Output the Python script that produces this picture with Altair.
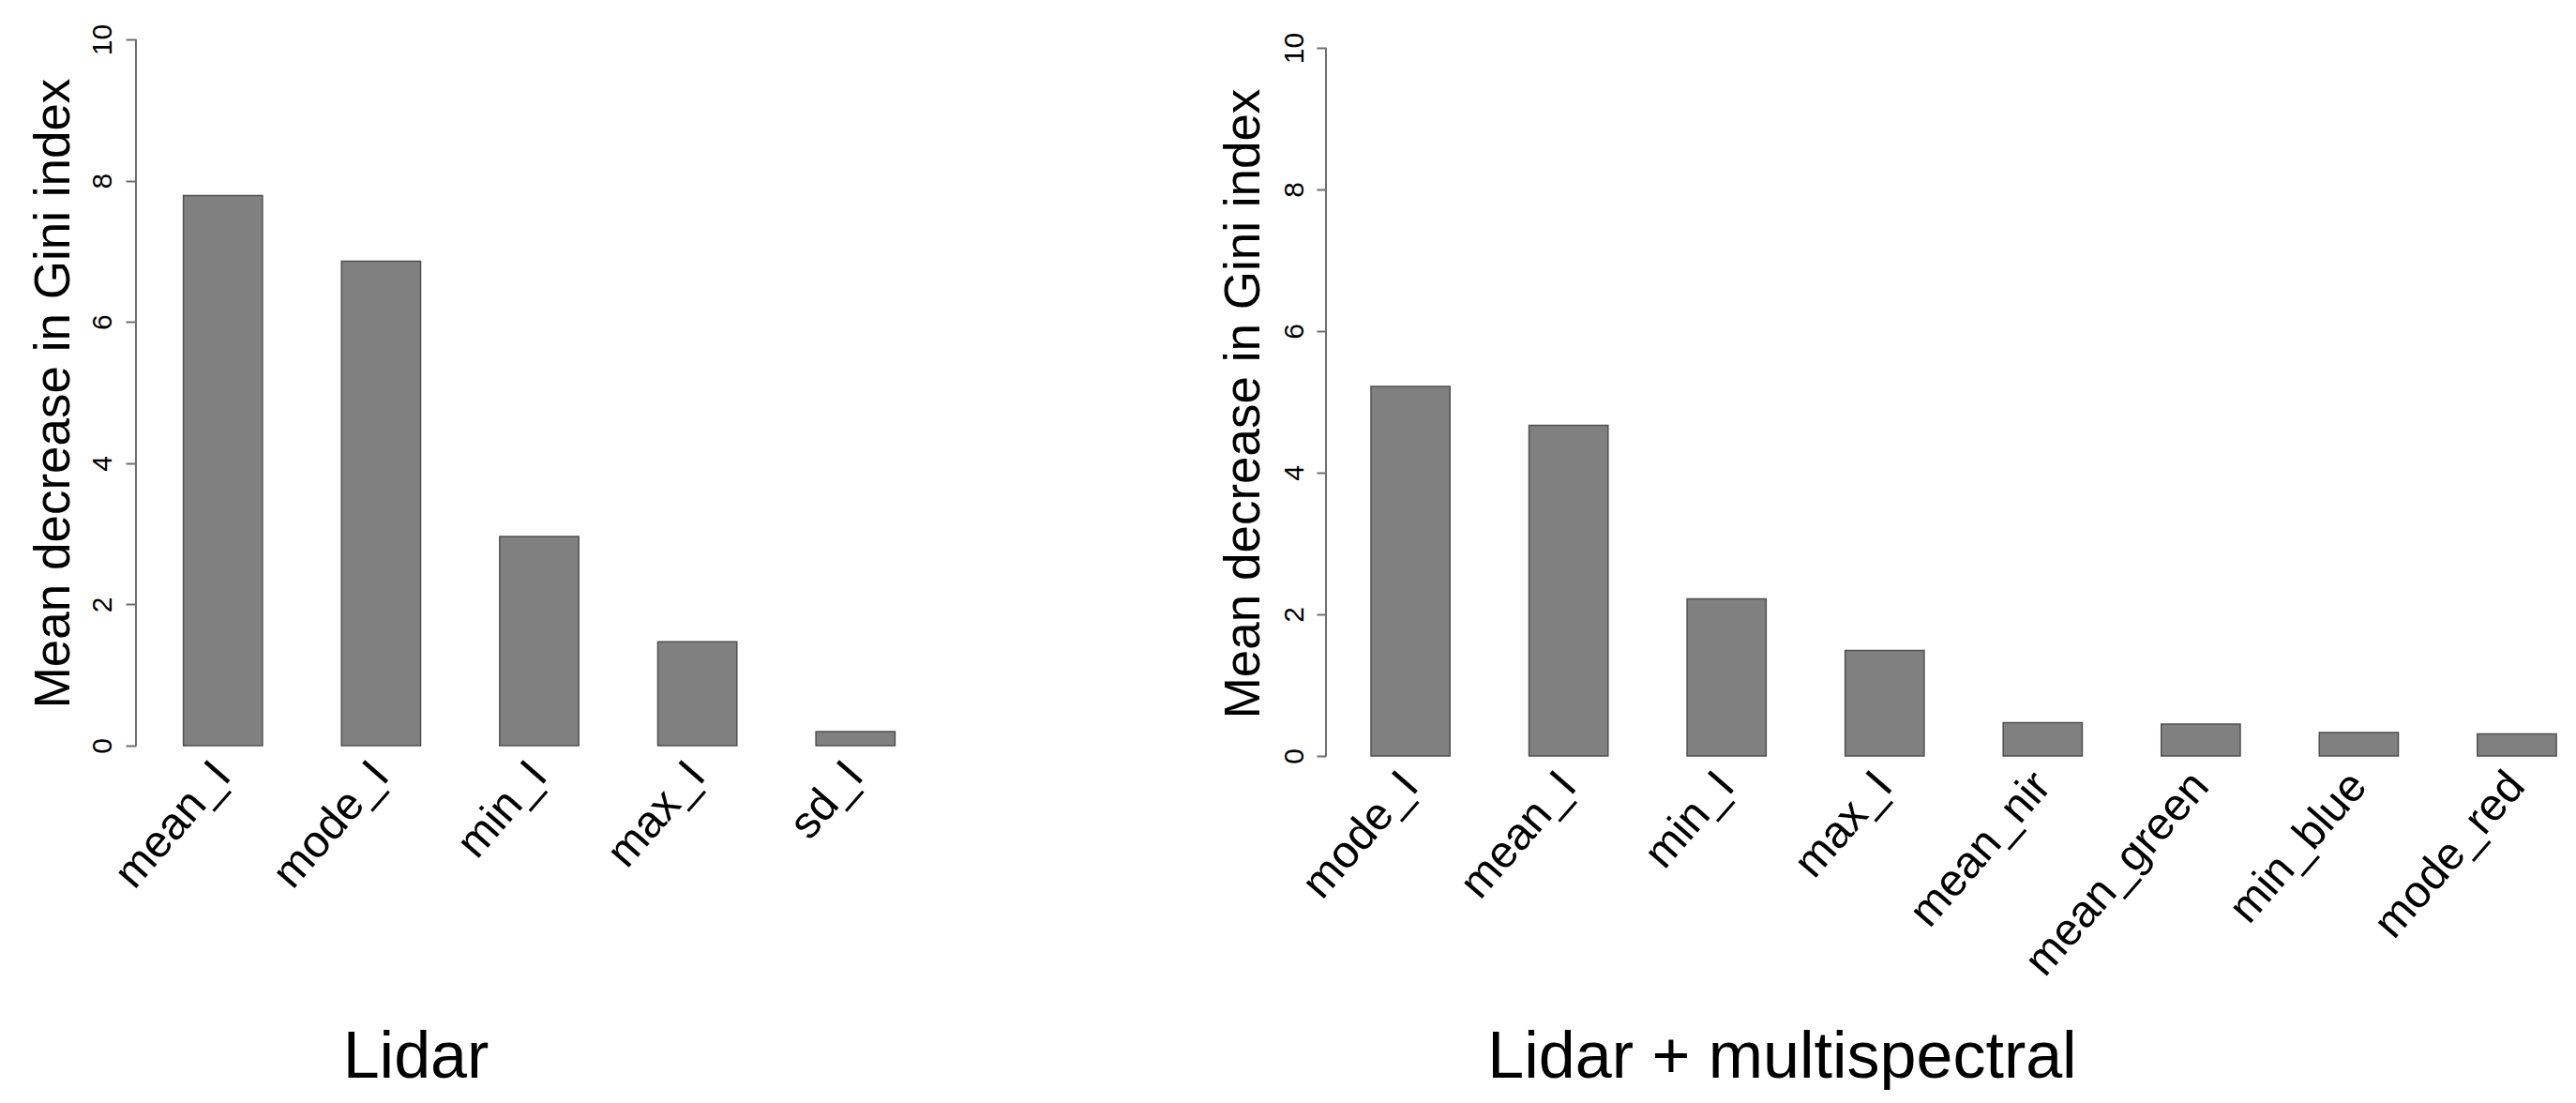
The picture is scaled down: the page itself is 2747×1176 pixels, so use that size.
import altair as alt
import pandas as pd

# ---- data ----
lidar_vars = ["mean_I", "mode_I", "min_I", "max_I", "sd_I"]
lidar_vals = [7.79, 6.86, 2.96, 1.47, 0.20]

combo_vars = ["mode_I", "mean_I", "min_I", "max_I", "mean_nir", "mean_green", "min_blue", "mode_red"]
combo_vals = [5.22, 4.67, 2.22, 1.49, 0.47, 0.45, 0.33, 0.31]

y_ticks = [0, 2, 4, 6, 8, 10]
axis_span = [0, 10]
panel_titles = ["Lidar", "Lidar + multispectral"]
y_title = "Mean decrease in Gini index"

FONT = "Liberation Sans, Arial, Helvetica, sans-serif"
GREY_AXIS = "#6e6e6e"


def panel(vars_, vals, title, width, dom, po, align, title_x, lab_pad,
          ylab_pad, ytitle_y, tick_len):
    df = pd.DataFrame({"var": vars_, "val": vals})
    yscale = alt.Scale(domain=dom, nice=False, zero=False)
    yaxis = alt.Axis(
        values=y_ticks, title=y_title, domain=False, grid=False,
        tickSize=tick_len, tickColor=GREY_AXIS, tickWidth=2,
        labelAngle=270, labelAlign="center", labelBaseline="alphabetic",
        labelPadding=ylab_pad, labelFontSize=30, labelFont=FONT,
        labelColor="black",
        titleFontSize=53, titleFont=FONT, titleFontWeight="normal",
        titleColor="black", titleX=-72, titleY=ytitle_y,
        titleAngle=270, titleBaseline="alphabetic", titleAlign="center",
    )
    bars = alt.Chart(df).mark_bar(
        color="#808080", stroke="#505050", strokeWidth=1.5
    ).encode(
        x=alt.X(
            "var:N", sort=None,
            scale=alt.Scale(paddingInner=0.5, paddingOuter=po, align=align),
            axis=alt.Axis(
                title=title, labelAngle=311, labelAlign="right",
                labelBaseline="middle", labelFontSize=48, labelFont=FONT,
                labelColor="black", labelPadding=lab_pad, labelLimit=1000,
                labelOverlap=False, ticks=False, domain=False,
                titleFontSize=70, titleFont=FONT, titleFontWeight="normal",
                titleColor="black", titleX=title_x, titleY=342,
                titleBaseline="alphabetic", titleAlign="center",
            ),
        ),
        y=alt.Y("val:Q", scale=yscale, axis=yaxis),
    )
    axdf = pd.DataFrame({"lo": [axis_span[0]], "hi": [axis_span[1]]})
    rule = alt.Chart(axdf).mark_rule(color=GREY_AXIS, strokeWidth=2).encode(
        x=alt.value(0),
        y=alt.Y("lo:Q", scale=yscale, axis=yaxis),
        y2="hi:Q",
    )
    return alt.layer(bars, rule).properties(width=width, height=764)


left = panel(lidar_vars, lidar_vals, panel_titles[0], 860, [-0.146, 10],
             0.3, 0.5, 298, 13, 16, 377, 11)
right = panel(combo_vars, combo_vals, panel_titles[1], 1318, [0, 10.119],
              0.16, 0.89, 486, 24, 15, 388, 10)

chart = alt.hconcat(left, right, spacing=294).properties(
    padding={"left": 22, "top": 17, "right": 5, "bottom": 0},
    background="white",
).configure_view(stroke=None)

chart.save("out.html", embed_options={"renderer": "svg", "actions": False})
